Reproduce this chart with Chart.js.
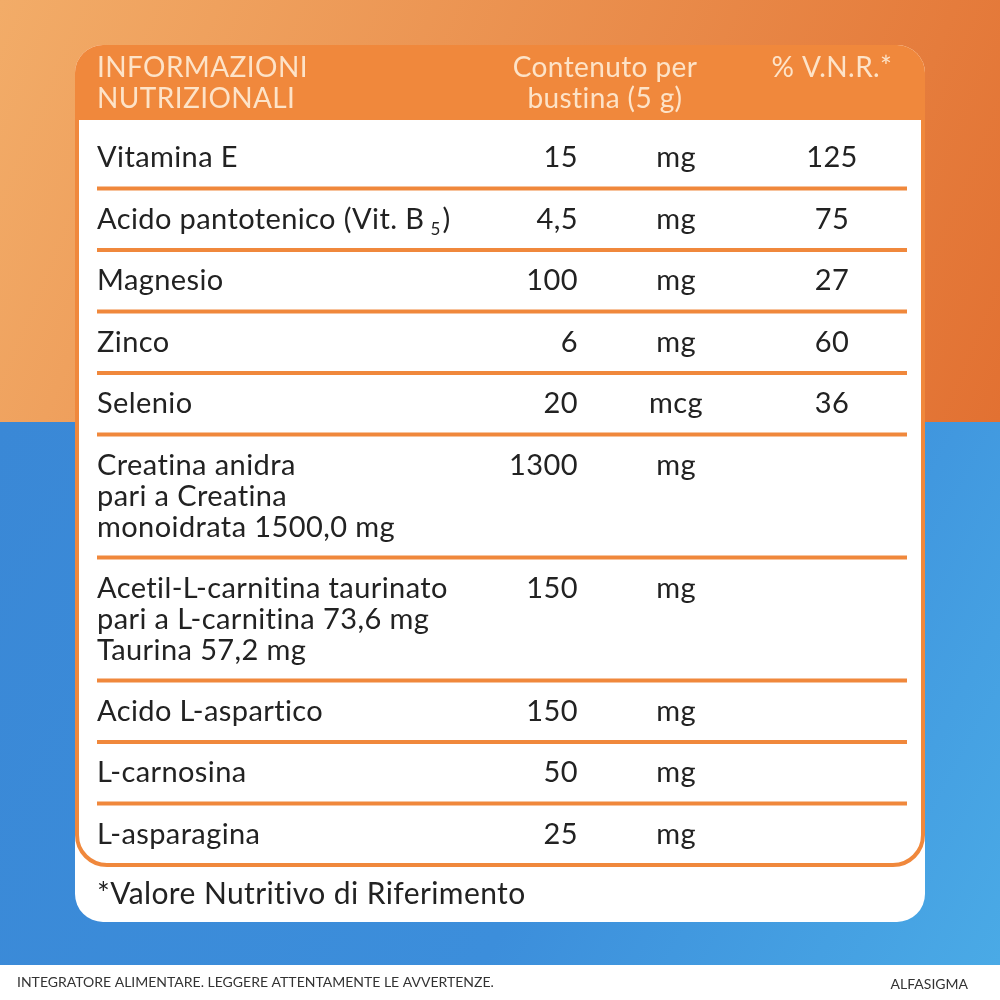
<!DOCTYPE html>
<html><head><meta charset="utf-8">
<script src="https://cdn.jsdelivr.net/npm/chart.js@4"></script>
<style>html,body{margin:0;padding:0;background:#fff}#c{display:block}</style>
</head><body>
<div style="width:1000px;height:1000px"><canvas id="c" width="1000" height="1000"></canvas></div>
<script>
const headers = [["INFORMAZIONI", "NUTRIZIONALI"], ["Contenuto per", "bustina (5 g)"], ["% V.N.R.*"]];
const nutrients = [
  ["Vitamina E"], ["Acido pantotenico (Vit. B|5|)"], ["Magnesio"], ["Zinco"], ["Selenio"],
  ["Creatina anidra", "pari a Creatina", "monoidrata 1500,0 mg"],
  ["Acetil-L-carnitina taurinato", "pari a L-carnitina 73,6 mg", "Taurina 57,2 mg"],
  ["Acido L-aspartico"], ["L-carnosina"], ["L-asparagina"]
];
const amounts = ["15", "4,5", "100", "6", "20", "1300", "150", "150", "50", "25"];
const units = ["mg", "mg", "mg", "mg", "mcg", "mg", "mg", "mg", "mg", "mg"];
const vnr = ["125", "75", "27", "60", "36", "", "", "", "", ""];
const footnote = "*Valore Nutritivo di Riferimento";
const bottomText = "INTEGRATORE ALIMENTARE. LEGGERE ATTENTAMENTE LE AVVERTENZE.";
const brand = "ALFASIGMA";

function rr(ctx, x, y, w, h, r) {
  ctx.beginPath();
  ctx.moveTo(x + r[0], y); ctx.lineTo(x + w - r[1], y); ctx.arcTo(x + w, y, x + w, y + r[1], r[1]);
  ctx.lineTo(x + w, y + h - r[2]); ctx.arcTo(x + w, y + h, x + w - r[2], y + h, r[2]);
  ctx.lineTo(x + r[3], y + h); ctx.arcTo(x, y + h, x, y + h - r[3], r[3]);
  ctx.lineTo(x, y + r[0]); ctx.arcTo(x, y, x + r[0], y, r[0]); ctx.closePath();
}

const tablePlugin = {
  id: "table",
  beforeDraw(chart) {
    const ctx = chart.ctx, X = v => chart.scales.x.getPixelForValue(v), Y = v => chart.scales.y.getPixelForValue(v);
    ctx.save();
    ctx.letterSpacing = "0.4px";
    // background
    let g = ctx.createLinearGradient(0, 0, 1000, 420);
    g.addColorStop(0, "#f2ac68"); g.addColorStop(1, "#e27132");
    ctx.fillStyle = g; ctx.fillRect(0, 0, 1000, 422);
    g = ctx.createLinearGradient(0, 422, 1000, 965);
    g.addColorStop(0, "#3a88d6"); g.addColorStop(0.6, "#3c8edb"); g.addColorStop(1, "#4aaae6");
    ctx.fillStyle = g; ctx.fillRect(0, 422, 1000, 543);
    ctx.fillStyle = "#ffffff"; ctx.fillRect(0, 965, 1000, 35);
    // card
    ctx.fillStyle = "#fff"; rr(ctx, X(75), Y(45), 850, 877, [28, 28, 28, 28]); ctx.fill();
    ctx.save(); rr(ctx, X(75), Y(45), 850, 877, [28, 28, 28, 28]); ctx.clip();
    ctx.fillStyle = "#f0883c"; ctx.fillRect(X(75), Y(45), 850, 75);
    ctx.restore();
    ctx.strokeStyle = "#f0883c"; ctx.lineWidth = 4;
    rr(ctx, X(77), Y(100), 846, 765, [0, 0, 30, 30]); ctx.stroke();
    // headers
    ctx.fillStyle = "#fde3c8"; ctx.font = "28px Lato"; ctx.textBaseline = "middle";
    ctx.textAlign = "left";
    headers[0].forEach((t, i) => ctx.fillText(t, X(97), Y(68 + i * 31)));
    ctx.textAlign = "center";
    headers[1].forEach((t, i) => ctx.fillText(t, X(605), Y(68 + i * 31)));
    ctx.fillText(headers[2][0], X(832), Y(68));
    // rows
    ctx.fillStyle = "#222";
    const F = "29px Lato";
    ctx.font = F;
    let top = 127;
    nutrients.forEach((lines, i) => {
      const h = lines.length === 1 ? 61.5 : 31 * lines.length + 30;
      const firstY = lines.length === 1 ? top + h / 2 : top + 31;
      lines.forEach((t, j) => {
        ctx.textAlign = "left";
        const parts = t.split("|");
        let x = X(97);
        parts.forEach((p, k) => {
          if (k === 1) { ctx.font = "17px Lato"; ctx.fillText(p, x + 6, Y(firstY + 10)); x += 18; ctx.font = F; }
          else { ctx.fillText(p, x, Y(firstY + j * 31)); x += ctx.measureText(p).width; }
        });
      });
      ctx.textAlign = "right"; ctx.fillText(amounts[i], X(578), Y(firstY));
      ctx.textAlign = "center"; ctx.fillText(units[i], X(676), Y(firstY));
      ctx.fillText(vnr[i], X(832), Y(firstY));
      top += h;
      if (i < nutrients.length - 1) {
        ctx.fillStyle = "#f0883c"; ctx.fillRect(X(97), Y(top - 2), 810, 4); ctx.fillStyle = "#222";
      }
    });
    ctx.textAlign = "left"; ctx.font = "30px Lato";
    ctx.fillText(footnote, X(97), Y(894));
    ctx.letterSpacing = "0px";
    ctx.font = "14px Lato"; ctx.fillStyle = "#333";
    ctx.fillText(bottomText, X(17), Y(982));
    ctx.textAlign = "right";
    ctx.fillText(brand, X(968), Y(984));
    ctx.restore();
  }
};

new Chart(document.getElementById("c"), {
  type: "scatter",
  data: { datasets: [] },
  options: {
    responsive: false, animation: false,
    layout: { padding: 0 },
    plugins: { legend: { display: false }, tooltip: { enabled: false } },
    scales: {
      x: { type: "linear", min: 0, max: 1000, display: false },
      y: { type: "linear", min: 0, max: 1000, reverse: true, display: false }
    }
  },
  plugins: [tablePlugin]
});
</script>
</body></html>
